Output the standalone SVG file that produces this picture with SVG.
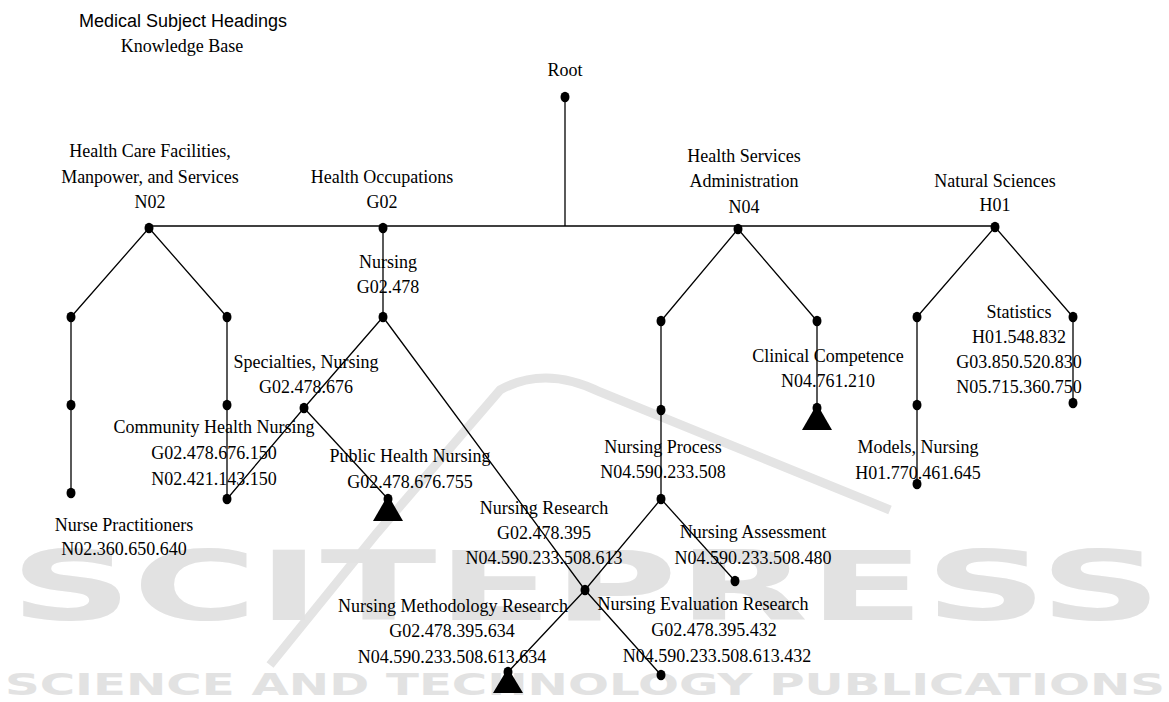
<svg xmlns="http://www.w3.org/2000/svg" width="1169" height="702" viewBox="0 0 1169 702">
<style>
  .lbl { font-family: "Liberation Serif", "Times New Roman", serif; font-size: 18px; fill: #000; text-anchor: middle; }
  .ttl { font-family: "Liberation Sans", Arial, sans-serif; font-size: 18px; fill: #000; text-anchor: middle; }
  .dot { fill: #000; }
  .edge { stroke: #000; stroke-width: 1.3; fill: none; }
  .tri { fill: #000; }
  .wm { font-family: "DejaVu Sans", sans-serif; font-weight: bold; fill: #e2e2e2; text-anchor: middle; }
</style>
<rect width="1169" height="702" fill="#fff"/>
<g id="watermark">
  <path d="M 270 665 L 377 533 L 500 390 Q 545 365 600 392 L 890 510" stroke="#e4e4e4" stroke-width="9" fill="none"/>
  <text class="wm" x="586" y="620" font-size="96" textLength="1152" lengthAdjust="spacingAndGlyphs">SCITEPRESS</text>
  <text class="wm" x="585" y="695" font-size="31" textLength="1160" lengthAdjust="spacingAndGlyphs">SCIENCE AND TECHNOLOGY PUBLICATIONS</text>
</g>
<g id="title">
  <text class="ttl" x="183" y="27">Medical Subject Headings</text>
  <text class="lbl" x="182" y="52">Knowledge Base</text>
</g>
<g id="connectors">
  <polyline class="edge" points="149,226 995,226"/>
  <polyline class="edge" points="565,97 565,226"/>
  <polyline class="edge" points="71,317 149,228 227,317"/>
  <polyline class="edge" points="71,317 71,493"/>
  <polyline class="edge" points="227,317 227,499"/>
  <polyline class="edge" points="383,228 383,317"/>
  <polyline class="edge" points="383,317 304,408 227,499"/>
  <polyline class="edge" points="304,408 388,499"/>
  <polyline class="edge" points="383,317 585,590 661,675"/>
  <polyline class="edge" points="661,321 738,229 817,321"/>
  <polyline class="edge" points="661,321 661,499"/>
  <polyline class="edge" points="817,321 817,408"/>
  <polyline class="edge" points="661,499 585,590 508,672"/>
  <polyline class="edge" points="661,499 735,581"/>
  <polyline class="edge" points="917,317 995,227 1073,317"/>
  <polyline class="edge" points="917,317 917,484"/>
  <polyline class="edge" points="1073,317 1073,403"/>
</g>
<g id="node-root">
  <ellipse class="dot" cx="565" cy="97" rx="4.5" ry="5.2"/>
  <text class="lbl" x="565" y="76">Root</text>
</g>
<g id="node-n02">
  <ellipse class="dot" cx="149" cy="228" rx="4.5" ry="5.2"/>
  <text class="lbl" x="150" y="157">Health Care Facilities,</text>
  <text class="lbl" x="150" y="183">Manpower, and Services</text>
  <text class="lbl" x="150" y="208">N02</text>
</g>
<g id="node-g02">
  <ellipse class="dot" cx="383" cy="228" rx="4.5" ry="5.2"/>
  <text class="lbl" x="382" y="183">Health Occupations</text>
  <text class="lbl" x="382" y="208">G02</text>
</g>
<g id="node-n04">
  <ellipse class="dot" cx="738" cy="229" rx="4.5" ry="5.2"/>
  <text class="lbl" x="744" y="162">Health Services</text>
  <text class="lbl" x="744" y="187">Administration</text>
  <text class="lbl" x="744" y="213">N04</text>
</g>
<g id="node-h01">
  <ellipse class="dot" cx="995" cy="227" rx="4.5" ry="5.2"/>
  <text class="lbl" x="995" y="187">Natural Sciences</text>
  <text class="lbl" x="995" y="211">H01</text>
</g>
<g id="node-n02-a1"><ellipse class="dot" cx="71" cy="317" rx="4.5" ry="5.2"/></g>
<g id="node-n02-a2"><ellipse class="dot" cx="71" cy="405" rx="4.5" ry="5.2"/></g>
<g id="node-nurse-practitioners">
  <ellipse class="dot" cx="71" cy="493" rx="4.5" ry="5.2"/>
  <text class="lbl" x="124" y="531">Nurse Practitioners</text>
  <text class="lbl" x="124" y="555">N02.360.650.640</text>
</g>
<g id="node-n02-b1"><ellipse class="dot" cx="227" cy="317" rx="4.5" ry="5.2"/></g>
<g id="node-n02-b2"><ellipse class="dot" cx="227" cy="405" rx="4.5" ry="5.2"/></g>
<g id="node-community-health-nursing">
  <ellipse class="dot" cx="227" cy="499" rx="4.5" ry="5.2"/>
  <text class="lbl" x="214" y="433">Community Health Nursing</text>
  <text class="lbl" x="214" y="459">G02.478.676.150</text>
  <text class="lbl" x="214" y="485">N02.421.143.150</text>
</g>
<g id="node-nursing">
  <ellipse class="dot" cx="383" cy="317" rx="4.5" ry="5.2"/>
  <text class="lbl" x="388" y="268">Nursing</text>
  <text class="lbl" x="388" y="293">G02.478</text>
</g>
<g id="node-specialties-nursing">
  <ellipse class="dot" cx="304" cy="408" rx="4.5" ry="5.2"/>
  <text class="lbl" x="306" y="368">Specialties, Nursing</text>
  <text class="lbl" x="306" y="393">G02.478.676</text>
</g>
<g id="node-public-health-nursing">
  <polygon class="tri" points="388,495 373,521 403,521"/>
  <ellipse class="dot" cx="388" cy="499" rx="4.5" ry="5.2"/>
  <text class="lbl" x="410" y="462">Public Health Nursing</text>
  <text class="lbl" x="410" y="488">G02.478.676.755</text>
</g>
<g id="node-nursing-research">
  <ellipse class="dot" cx="585" cy="590" rx="4.5" ry="5.2"/>
  <text class="lbl" x="544" y="514">Nursing Research</text>
  <text class="lbl" x="544" y="539">G02.478.395</text>
  <text class="lbl" x="544" y="564">N04.590.233.508.613</text>
</g>
<g id="node-n04-c1"><ellipse class="dot" cx="661" cy="321" rx="4.5" ry="5.2"/></g>
<g id="node-n04-c2"><ellipse class="dot" cx="661" cy="410" rx="4.5" ry="5.2"/></g>
<g id="node-nursing-process">
  <ellipse class="dot" cx="661" cy="499" rx="4.5" ry="5.2"/>
  <text class="lbl" x="663" y="453">Nursing Process</text>
  <text class="lbl" x="663" y="478">N04.590.233.508</text>
</g>
<g id="node-n04-d1"><ellipse class="dot" cx="817" cy="321" rx="4.5" ry="5.2"/></g>
<g id="node-clinical-competence">
  <polygon class="tri" points="817,404 802,430 832,430"/>
  <ellipse class="dot" cx="817" cy="408" rx="4.5" ry="5.2"/>
  <text class="lbl" x="828" y="362">Clinical Competence</text>
  <text class="lbl" x="828" y="387">N04.761.210</text>
</g>
<g id="node-nursing-assessment">
  <ellipse class="dot" cx="735" cy="581" rx="4.5" ry="5.2"/>
  <text class="lbl" x="753" y="538">Nursing Assessment</text>
  <text class="lbl" x="753" y="564">N04.590.233.508.480</text>
</g>
<g id="node-nursing-methodology-research">
  <polygon class="tri" points="508,668 493,693 523,693"/>
  <ellipse class="dot" cx="508" cy="672" rx="4.5" ry="5.2"/>
  <text class="lbl" x="453" y="612">Nursing Methodology Research</text>
  <text class="lbl" x="452" y="637">G02.478.395.634</text>
  <text class="lbl" x="452" y="663">N04.590.233.508.613.634</text>
</g>
<g id="node-nursing-evaluation-research">
  <ellipse class="dot" cx="661" cy="675" rx="4.5" ry="5.2"/>
  <text class="lbl" x="703" y="610">Nursing Evaluation Research</text>
  <text class="lbl" x="714" y="636">G02.478.395.432</text>
  <text class="lbl" x="717" y="662">N04.590.233.508.613.432</text>
</g>
<g id="node-h01-e1"><ellipse class="dot" cx="917" cy="317" rx="4.5" ry="5.2"/></g>
<g id="node-h01-e2"><ellipse class="dot" cx="917" cy="405" rx="4.5" ry="5.2"/></g>
<g id="node-models-nursing">
  <ellipse class="dot" cx="917" cy="484" rx="4.5" ry="5.2"/>
  <text class="lbl" x="918" y="453">Models, Nursing</text>
  <text class="lbl" x="918" y="479">H01.770.461.645</text>
</g>
<g id="node-h01-f1"><ellipse class="dot" cx="1073" cy="317" rx="4.5" ry="5.2"/></g>
<g id="node-statistics">
  <ellipse class="dot" cx="1073" cy="403" rx="4.5" ry="5.2"/>
  <text class="lbl" x="1019" y="318">Statistics</text>
  <text class="lbl" x="1019" y="343">H01.548.832</text>
  <text class="lbl" x="1019" y="368">G03.850.520.830</text>
  <text class="lbl" x="1019" y="393">N05.715.360.750</text>
</g>
</svg>
